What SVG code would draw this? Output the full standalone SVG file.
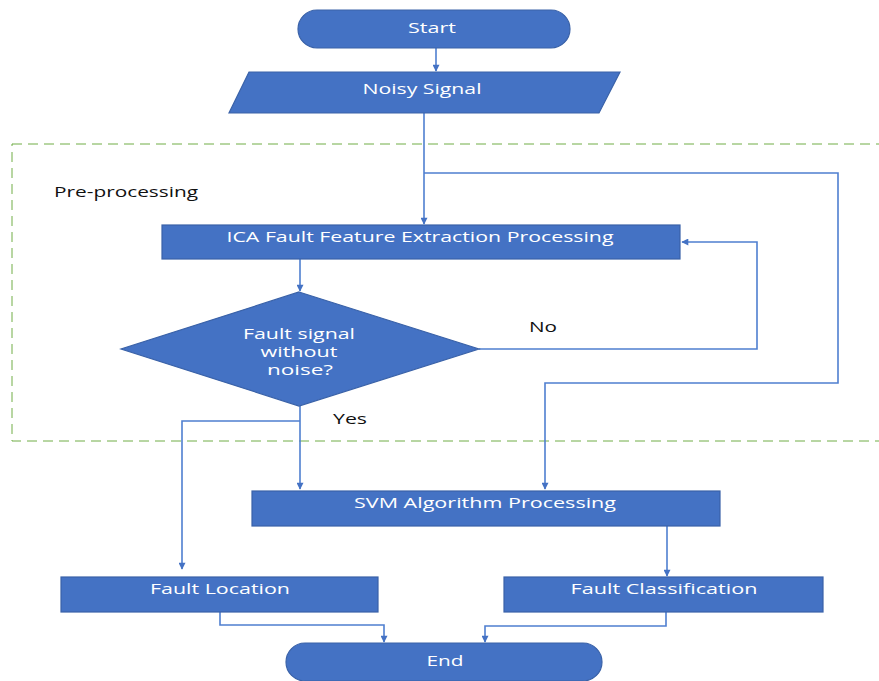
<svg xmlns="http://www.w3.org/2000/svg" width="879" height="681" viewBox="0 0 879 681">
<style>
.n{fill:#4472C4;stroke:#3A62A8;stroke-width:1.2}
.t{fill:#fff;font-family:"Open Sans","Liberation Sans",sans-serif;font-size:14.5px;text-anchor:middle}
.l{fill:#111;font-family:"Open Sans","Liberation Sans",sans-serif;font-size:14.5px}
.c{fill:none;stroke:#4F7FD0;stroke-width:1.6}
</style>
<defs>
<marker id="a" viewBox="0 0 10 10" refX="9" refY="5" markerWidth="8" markerHeight="7" markerUnits="userSpaceOnUse" orient="auto">
<path d="M0,0 L10,5 L0,10 z" fill="#4472C4"/>
</marker>
</defs>
<rect x="12" y="144" width="880" height="297" fill="none" stroke="#70AD47" stroke-width="1" stroke-dasharray="10,6"/>
<text class="l" x="54" y="197" textLength="144" lengthAdjust="spacingAndGlyphs">Pre-processing</text>
<g id="connectors">
<path class="c" d="M436,48 V71" marker-end="url(#a)"/>
<path class="c" d="M424,113 V224" marker-end="url(#a)"/>
<path class="c" d="M424,173 H838 V383 H545 V489" marker-end="url(#a)"/>
<path class="c" d="M300,259 V291" marker-end="url(#a)"/>
<path class="c" d="M479,349 H757 V242 H682" marker-end="url(#a)"/>
<path class="c" d="M300,406 V489" marker-end="url(#a)"/>
<path class="c" d="M300,421 H182 V569" marker-end="url(#a)"/>
<path class="c" d="M667,526 V576" marker-end="url(#a)"/>
<path class="c" d="M220,612 V625 H384 V642" marker-end="url(#a)"/>
<path class="c" d="M666,612 V626 H485 V642" marker-end="url(#a)"/>
</g>
<text class="l" x="529" y="332" textLength="28" lengthAdjust="spacingAndGlyphs">No</text>
<text class="l" x="333" y="424" textLength="34" lengthAdjust="spacingAndGlyphs">Yes</text>
<g id="start">
<rect class="n" x="298" y="10" width="272" height="38" rx="19"/>
<text class="t" x="432" y="33" textLength="48" lengthAdjust="spacingAndGlyphs">Start</text>
</g>
<g id="noisy">
<polygon class="n" points="249,72 620,72 599,113 229,113"/>
<text class="t" x="422" y="94" textLength="119" lengthAdjust="spacingAndGlyphs">Noisy Signal</text>
</g>
<g id="ica">
<rect class="n" x="162" y="225" width="518" height="34"/>
<text class="t" x="420" y="242" textLength="387" lengthAdjust="spacingAndGlyphs">ICA Fault Feature Extraction Processing</text>
</g>
<g id="decision">
<polygon class="n" points="299,292 479,349 299,406 121,349"/>
<text class="t" x="299" y="339" textLength="112" lengthAdjust="spacingAndGlyphs">Fault signal</text>
<text class="t" x="299" y="357" textLength="77" lengthAdjust="spacingAndGlyphs">without</text>
<text class="t" x="300" y="375" textLength="66" lengthAdjust="spacingAndGlyphs">noise?</text>
</g>
<g id="svm">
<rect class="n" x="252" y="491" width="468" height="35"/>
<text class="t" x="485" y="508" textLength="262" lengthAdjust="spacingAndGlyphs">SVM Algorithm Processing</text>
</g>
<g id="location">
<rect class="n" x="61" y="577" width="317" height="35"/>
<text class="t" x="220" y="594" textLength="140" lengthAdjust="spacingAndGlyphs">Fault Location</text>
</g>
<g id="classification">
<rect class="n" x="504" y="577" width="319" height="35"/>
<text class="t" x="664" y="594" textLength="187" lengthAdjust="spacingAndGlyphs">Fault Classification</text>
</g>
<g id="end">
<rect class="n" x="286" y="643" width="316" height="38" rx="19"/>
<text class="t" x="445" y="666" textLength="37" lengthAdjust="spacingAndGlyphs">End</text>
</g>
</svg>
